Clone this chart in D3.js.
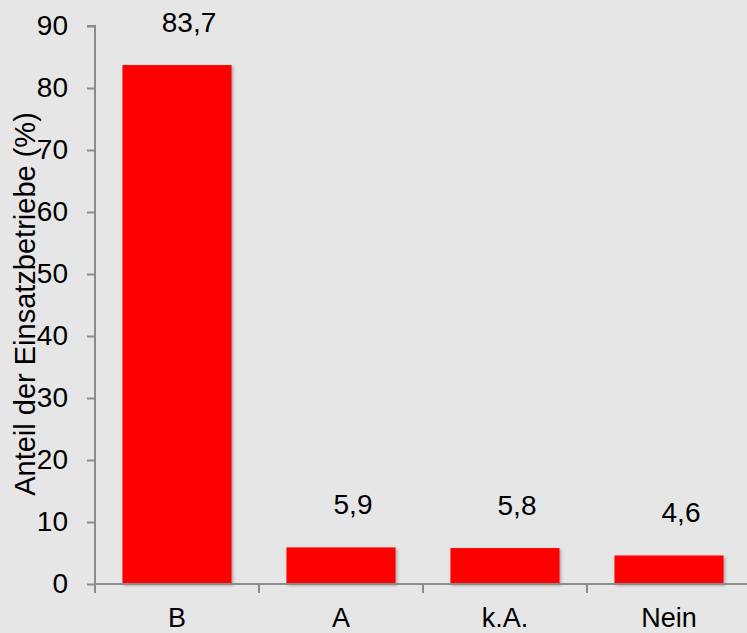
<!DOCTYPE html>
<html><head><meta charset="utf-8">
<script src="https://cdn.jsdelivr.net/npm/d3@7"></script>
<style>html,body{margin:0;padding:0;background:#e6e6e6;}svg{display:block;}</style>
</head><body>
<script>
const categories = ["B", "A", "k.A.", "Nein"];
const values = [83.7, 5.9, 5.8, 4.6];
const valueLabels = ["83,7", "5,9", "5,8", "4,6"];
const yTicks = [0, 10, 20, 30, 40, 50, 60, 70, 80, 90];
const yTitle = "Anteil der Einsatzbetriebe (%)";

const W = 747, H = 633;
const FONT = "'Liberation Sans', Arial, sans-serif";
const svg = d3.select("body").append("svg").attr("width", W).attr("height", H)
  .style("font-family", FONT);
svg.append("rect").attr("width", W).attr("height", H).attr("fill", "#e6e6e6");

const defs = svg.append("defs");
const f = defs.append("filter").attr("id", "sh").attr("x", "-10%").attr("y", "-10%").attr("width", "130%").attr("height", "130%");
f.append("feDropShadow").attr("dx", 1.5).attr("dy", 1.5).attr("stdDeviation", 1.5).attr("flood-color", "#000").attr("flood-opacity", 0.3);

const x = d3.scaleBand().domain(categories).range([95, 751]).paddingInner(0.335).paddingOuter(0.1675);
const y = d3.scaleLinear().domain([0, 90]).range([584, 26]);

const axisColor = "#8c8c8c";

// bars
svg.selectAll("rect.bar").data(values).join("rect").attr("class", "bar")
  .attr("x", (d, i) => x(categories[i]))
  .attr("width", x.bandwidth())
  .attr("y", d => y(d))
  .attr("height", d => y(0) - y(d))
  .attr("fill", "#ff0000")
  .attr("filter", "url(#sh)");

// y axis
const yAxis = svg.append("g").attr("transform", "translate(95,0)")
  .call(d3.axisLeft(y).tickValues(yTicks).tickSize(8).tickPadding(19).tickFormat(d3.format("d")));
yAxis.select(".domain").attr("stroke", axisColor).attr("stroke-width", 2).attr("d", `M-8,${y(90)}H0V${y(0)}`);
yAxis.selectAll(".tick line").attr("stroke", axisColor).attr("stroke-width", 2);
yAxis.selectAll(".tick text").attr("font-size", 28).attr("fill", "#000").attr("font-family", FONT);

// x axis
const xAxis = svg.append("g").attr("transform", `translate(0,${y(0)})`)
  .call(d3.axisBottom(x).tickSize(0).tickPadding(24));
xAxis.select(".domain").attr("stroke", axisColor).attr("stroke-width", 2).attr("d", `M95,0H747`);
xAxis.selectAll(".tick text").attr("font-size", 27).attr("fill", "#000").attr("font-family", FONT);
// x ticks at band boundaries
svg.append("g").selectAll("line")
  .data(categories.map((c, i) => i === 0 ? 95 : x(c) - (x.step() - x.bandwidth()) / 2))
  .join("line")
  .attr("x1", d => d).attr("x2", d => d)
  .attr("y1", y(0)).attr("y2", y(0) + 9)
  .attr("stroke", axisColor).attr("stroke-width", 2);

// value labels
svg.selectAll("text.val").data(values).join("text").attr("class", "val")
  .attr("x", (d, i) => x(categories[i]) + x.bandwidth() / 2 + 12)
  .attr("y", d => y(d) - 33)
  .attr("text-anchor", "middle")
  .attr("font-size", 28)
  .attr("fill", "#000")
  .text((d, i) => valueLabels[i]);

// y title
svg.append("text")
  .attr("transform", `translate(35,304) rotate(-90)`)
  .attr("text-anchor", "middle")
  .attr("font-size", 29)
  .attr("fill", "#000")
  .text(yTitle);
</script>
</body></html>
